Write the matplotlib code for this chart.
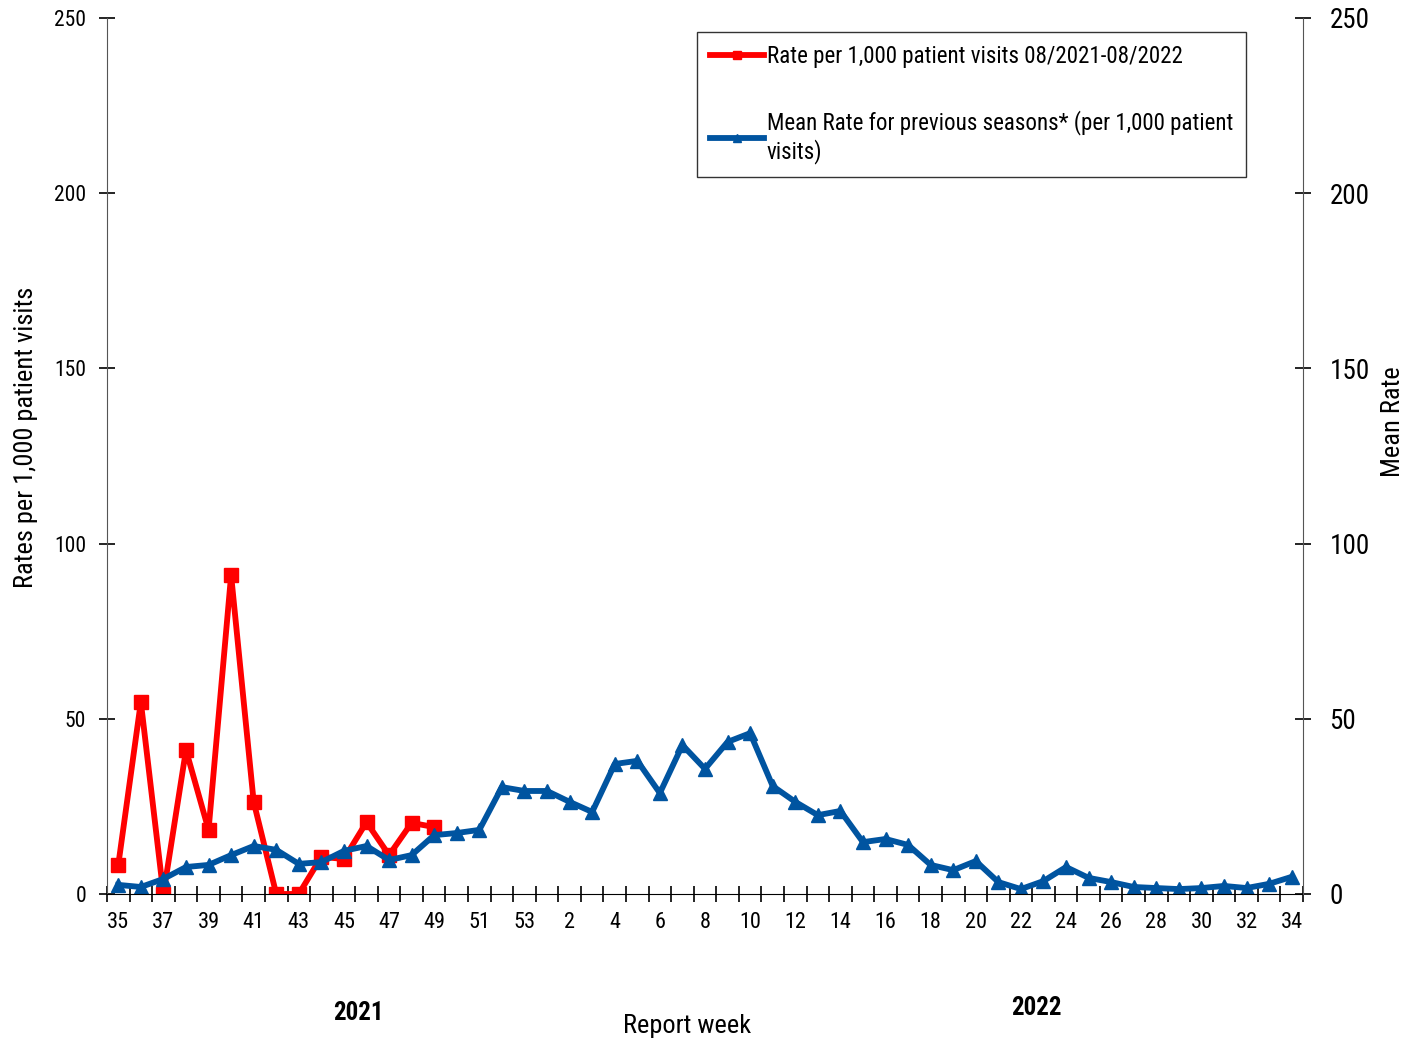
import matplotlib
matplotlib.use("Agg")
import matplotlib.pyplot as plt
import numpy as np

plt.rcParams['font.family'] = ['Roboto Condensed', 'Archivo Narrow', 'Liberation Sans', 'DejaVu Sans']

weeks = [str(w) for w in range(35, 54)] + [str(w) for w in range(1, 35)]
rate = [8.3, 54.8, 0, 41.1, 18.3, 91, 26.3, 0, 0, 10.6, 10.0, 20.5, 11.1, 20.3, 19.1]
mean_rate = [2.6, 2.0, 4.3, 7.7, 8.3, 11.1, 13.7, 12.6, 8.6, 9.1, 12.3, 13.7, 9.7, 11.1,
             16.8, 17.4, 18.3, 30.5, 29.4, 29.4, 26.3, 23.4, 37.1, 38.0, 28.8, 42.5, 35.7,
             43.4, 45.9, 30.8, 26.3, 22.5, 23.7, 14.8, 15.7, 14.0, 8.3, 6.8, 9.4, 3.4, 1.4,
             3.7, 7.7, 4.6, 3.4, 2.0, 1.7, 1.4, 1.7, 2.3, 1.7, 2.9, 4.9]
y_ticks = [0, 50, 100, 150, 200, 250]

fig = plt.figure(figsize=(14.19, 10.4), dpi=100)
ax = fig.add_axes([107 / 1419, 1 - 894 / 1040, 1196 / 1419, 876 / 1040])
x = np.arange(len(weeks))

ax.plot(x[:len(rate)], rate, color='#FF0000', lw=4.2, marker='s', ms=9.5,
        label='Rate per 1,000 patient visits 08/2021-08/2022')
ax.plot(x, mean_rate, color='#0054A0', lw=4.2, marker='^', ms=10,
        label='Mean Rate for previous seasons* (per 1,000 patient\nvisits)')

ax.set_xlim(-0.5, len(weeks) - 0.5)
ax.set_ylim(0, 250)
ax.set_yticks(y_ticks)
ax.set_xticks(x[::2])
ax.set_xticklabels(weeks[::2])
ax.set_xticks(np.arange(len(weeks) + 1) - 0.5, minor=True)
ax.tick_params(axis='x', which='major', length=0, labelsize=16, pad=13)
ax.tick_params(axis='x', which='minor', direction='inout', length=12, width=1.2)
ax.tick_params(axis='y', direction='inout', length=12, width=1.2, labelsize=15.5, pad=9)

for s in ['top', 'right']:
    ax.spines[s].set_visible(False)
ax.spines['left'].set_color('#555555')

ax2 = ax.twinx()
ax2.set_ylim(0, 250)
ax2.set_yticks(y_ticks)
ax2.tick_params(axis='y', direction='inout', length=12, width=1.2, labelsize=19.5, pad=13)
for s in ['top', 'left', 'bottom']:
    ax2.spines[s].set_visible(False)
ax2.spines['right'].set_color('#555555')

fig.text(26 / 1419, 1 - 437 / 1040, 'Rates per 1,000 patient visits', fontsize=19,
         rotation=90, ha='center', va='center')
fig.text(1393 / 1419, 1 - 422 / 1040, 'Mean Rate', fontsize=19,
         rotation=90, ha='center', va='center')

fig.text(358 / 1419, 1 - 1013 / 1040, '2021', fontsize=18, weight='bold', ha='center', va='center')
fig.text(1036 / 1419, 1 - 1008 / 1040, '2022', fontsize=18, weight='bold', ha='center', va='center')
fig.text(687 / 1419, 1 - 1026 / 1040, 'Report week', fontsize=19, ha='center', va='center')

leg = ax.legend(loc='upper left', bbox_to_anchor=(0.4933, 0.984), borderaxespad=0,
                fontsize=16.6, frameon=True, fancybox=False, edgecolor='black',
                labelspacing=1.85, handlelength=2.35, handletextpad=0.13, borderpad=0.55,
                markerscale=0.6)
leg.get_frame().set_linewidth(1.0)

fig.savefig('out.png', dpi=100)
